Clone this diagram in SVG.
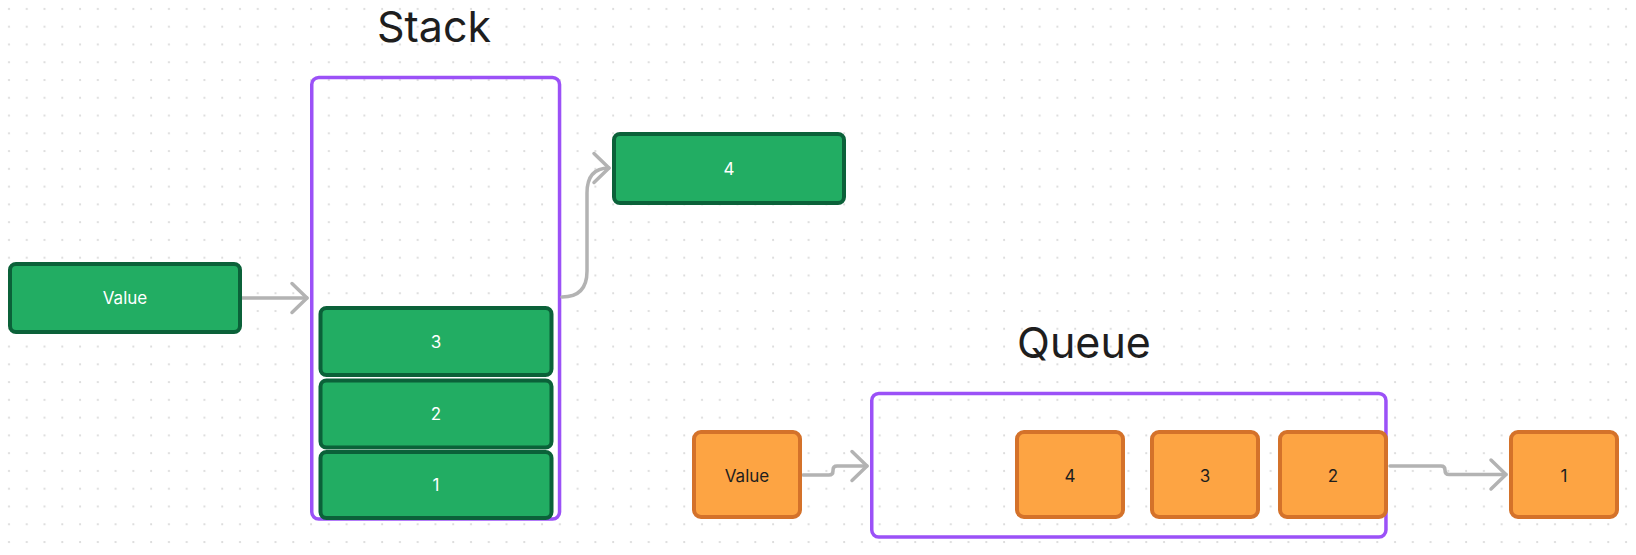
<svg xmlns="http://www.w3.org/2000/svg" width="1636" height="555" viewBox="0 0 1636 555">
  <style>
    .title { font-family: Inter, "Liberation Sans", sans-serif; font-size: 43px; fill: #1e1e1e; text-anchor: middle; }
    .green rect { fill: #22ad63; stroke: #0b6139; stroke-width: 4; }
    .green text { font-family: Inter, "Liberation Sans", sans-serif; font-size: 17px; fill: #ffffff; text-anchor: middle; }
    .orange rect { fill: #fda443; stroke: #d4722a; stroke-width: 4; }
    .orange text { font-family: Inter, "Liberation Sans", sans-serif; font-size: 17px; fill: #1e1e1e; text-anchor: middle; }
    .container rect { fill: none; stroke: #9b51f7; stroke-width: 3.5; }
    .conn path { fill: none; stroke: #b3b3b3; stroke-width: 3.5; stroke-linecap: round; stroke-linejoin: round; }
  </style>
  <defs>
    <pattern id="dots" x="0" y="0" width="17.77" height="17.77" patternUnits="userSpaceOnUse">
      <circle cx="9" cy="9" r="1.1" fill="#d9d9d9"/>
    </pattern>
    <marker id="arrow" markerUnits="userSpaceOnUse" viewBox="-20 -18 24 36" refX="0" refY="0" markerWidth="24" markerHeight="36" orient="auto">
      <path d="M -15 -14.5 L 0 0 L -15 14.5" fill="none" stroke="#b3b3b3" stroke-width="3.5" stroke-linecap="round" stroke-linejoin="round"/>
    </marker>
  </defs>

  <rect x="0" y="0" width="1636" height="555" fill="#ffffff"/>
  <rect x="0" y="0" width="1636" height="555" fill="url(#dots)"/>

  <text class="title" x="434" y="42">Stack</text>
  <text class="title" x="1084" y="358">Queue</text>

  <g id="stack-container" class="container">
    <rect x="311.75" y="77.5" width="247.8" height="441.5" rx="7"/>
  </g>
  <g id="queue-container" class="container">
    <rect x="871.75" y="393.5" width="514.2" height="143.5" rx="7"/>
  </g>

  <g id="connectors" class="conn">
    <path d="M 241.5 298 L 307 298" marker-end="url(#arrow)"/>
    <path d="M 562 297 Q 587 297 587 271 L 587 193 Q 587 168 609 168" marker-end="url(#arrow)"/>
    <path d="M 803 475 L 829 475 Q 833 475 833 471 L 833 470 Q 833 466 837 466 L 867 466" marker-end="url(#arrow)"/>
    <path d="M 1390 466 L 1441 466 Q 1445 466 1445 470 L 1445 470.5 Q 1445 474.5 1449 474.5 L 1506 474.5" marker-end="url(#arrow)"/>
  </g>

  <g id="stack-value" class="green">
    <rect x="10" y="264" width="230" height="68" rx="6"/>
    <text x="125" y="304">Value</text>
  </g>
  <g id="stack-4" class="green">
    <rect x="614" y="134" width="230" height="69" rx="6"/>
    <text x="729" y="175">4</text>
  </g>
  <g id="stack-3" class="green">
    <rect x="320.5" y="308" width="231" height="67" rx="6"/>
    <text x="436" y="348">3</text>
  </g>
  <g id="stack-2" class="green">
    <rect x="320.5" y="380.5" width="231" height="67" rx="6"/>
    <text x="436" y="420">2</text>
  </g>
  <g id="stack-1" class="green">
    <rect x="320.5" y="452" width="231" height="66" rx="6"/>
    <text x="436" y="491">1</text>
  </g>

  <g id="queue-value" class="orange">
    <rect x="694" y="432" width="106" height="85" rx="7"/>
    <text x="747" y="481.5">Value</text>
  </g>
  <g id="queue-4" class="orange">
    <rect x="1017" y="432" width="106" height="85" rx="7"/>
    <text x="1070" y="481.5">4</text>
  </g>
  <g id="queue-3" class="orange">
    <rect x="1152" y="432" width="106" height="85" rx="7"/>
    <text x="1205" y="481.5">3</text>
  </g>
  <g id="queue-2" class="orange">
    <rect x="1280" y="432" width="106" height="85" rx="7"/>
    <text x="1333" y="481.5">2</text>
  </g>
  <g id="queue-1" class="orange">
    <rect x="1511" y="432" width="106" height="85" rx="7"/>
    <text x="1564" y="481.5">1</text>
  </g>
</svg>
